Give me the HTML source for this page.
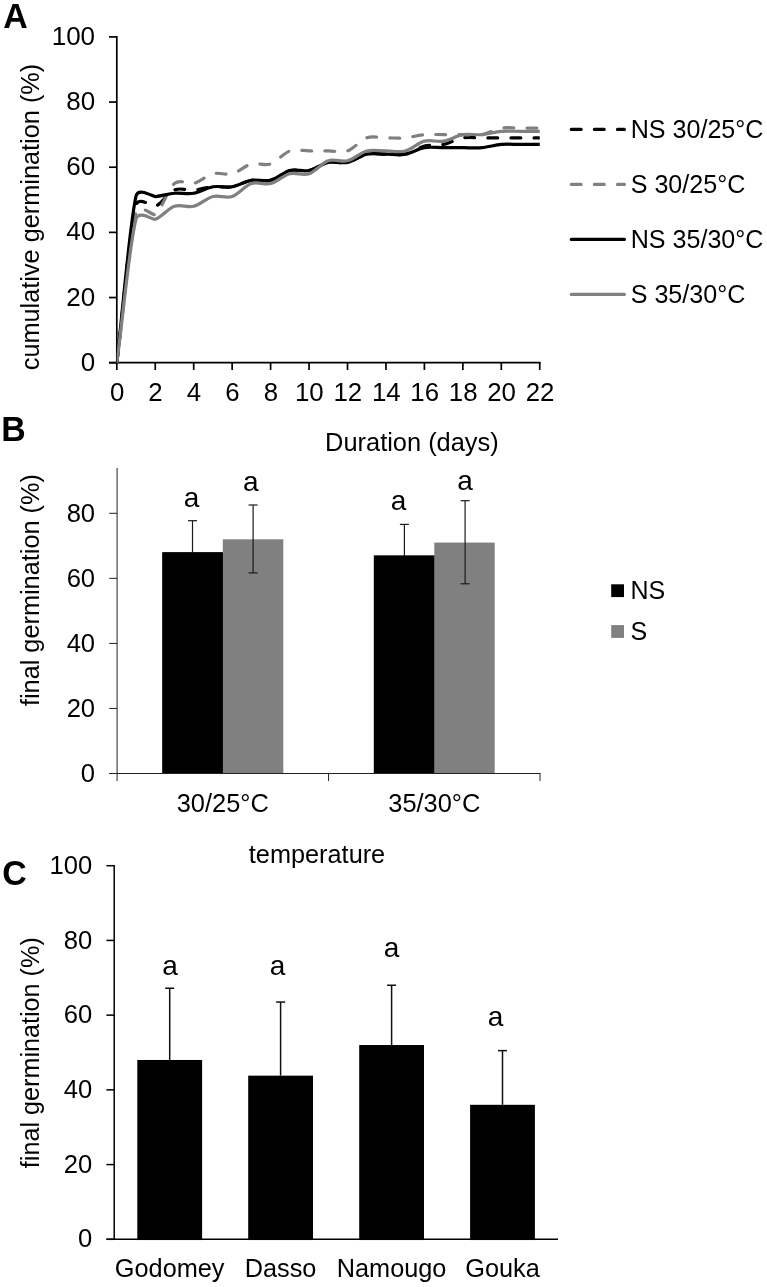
<!DOCTYPE html>
<html lang="en">
<head>
<meta charset="utf-8">
<title>Germination figure</title>
<style>
html,body{margin:0;padding:0;background:#fff;}
svg{display:block;}
svg text{font-family:"Liberation Sans", Arial, Helvetica, sans-serif;fill:#000;}
</style>
</head>
<body>
<svg width="767" height="1287" viewBox="0 0 767 1287">
<rect x="0" y="0" width="767" height="1287" fill="#ffffff"/>
<g id="panelA">
<line x1="116.80" y1="36.05" x2="116.80" y2="363.55" stroke="#000" stroke-width="1.7" />
<line x1="109.00" y1="362.70" x2="540.60" y2="362.70" stroke="#000" stroke-width="1.7" />
<line x1="109.00" y1="362.70" x2="116.80" y2="362.70" stroke="#000" stroke-width="1.7" />
<text x="95.10" y="370.70" font-size="26" text-anchor="end" font-weight="normal" >0</text>
<line x1="109.00" y1="297.54" x2="116.80" y2="297.54" stroke="#000" stroke-width="1.7" />
<text x="95.10" y="305.54" font-size="26" text-anchor="end" font-weight="normal" >20</text>
<line x1="109.00" y1="232.38" x2="116.80" y2="232.38" stroke="#000" stroke-width="1.7" />
<text x="95.10" y="240.38" font-size="26" text-anchor="end" font-weight="normal" >40</text>
<line x1="109.00" y1="167.22" x2="116.80" y2="167.22" stroke="#000" stroke-width="1.7" />
<text x="95.10" y="175.22" font-size="26" text-anchor="end" font-weight="normal" >60</text>
<line x1="109.00" y1="102.06" x2="116.80" y2="102.06" stroke="#000" stroke-width="1.7" />
<text x="95.10" y="110.06" font-size="26" text-anchor="end" font-weight="normal" >80</text>
<line x1="109.00" y1="36.90" x2="116.80" y2="36.90" stroke="#000" stroke-width="1.7" />
<text x="95.10" y="44.90" font-size="26" text-anchor="end" font-weight="normal" >100</text>
<line x1="116.80" y1="362.70" x2="116.80" y2="370.00" stroke="#000" stroke-width="1.7" />
<text x="117.10" y="401.30" font-size="25.8" text-anchor="middle" font-weight="normal" >0</text>
<line x1="155.25" y1="362.70" x2="155.25" y2="370.00" stroke="#000" stroke-width="1.7" />
<text x="155.55" y="401.30" font-size="25.8" text-anchor="middle" font-weight="normal" >2</text>
<line x1="193.70" y1="362.70" x2="193.70" y2="370.00" stroke="#000" stroke-width="1.7" />
<text x="194.00" y="401.30" font-size="25.8" text-anchor="middle" font-weight="normal" >4</text>
<line x1="232.15" y1="362.70" x2="232.15" y2="370.00" stroke="#000" stroke-width="1.7" />
<text x="232.45" y="401.30" font-size="25.8" text-anchor="middle" font-weight="normal" >6</text>
<line x1="270.60" y1="362.70" x2="270.60" y2="370.00" stroke="#000" stroke-width="1.7" />
<text x="270.90" y="401.30" font-size="25.8" text-anchor="middle" font-weight="normal" >8</text>
<line x1="309.05" y1="362.70" x2="309.05" y2="370.00" stroke="#000" stroke-width="1.7" />
<text x="309.35" y="401.30" font-size="25.8" text-anchor="middle" font-weight="normal" >10</text>
<line x1="347.50" y1="362.70" x2="347.50" y2="370.00" stroke="#000" stroke-width="1.7" />
<text x="347.80" y="401.30" font-size="25.8" text-anchor="middle" font-weight="normal" >12</text>
<line x1="385.95" y1="362.70" x2="385.95" y2="370.00" stroke="#000" stroke-width="1.7" />
<text x="386.25" y="401.30" font-size="25.8" text-anchor="middle" font-weight="normal" >14</text>
<line x1="424.40" y1="362.70" x2="424.40" y2="370.00" stroke="#000" stroke-width="1.7" />
<text x="424.70" y="401.30" font-size="25.8" text-anchor="middle" font-weight="normal" >16</text>
<line x1="462.85" y1="362.70" x2="462.85" y2="370.00" stroke="#000" stroke-width="1.7" />
<text x="463.15" y="401.30" font-size="25.8" text-anchor="middle" font-weight="normal" >18</text>
<line x1="501.30" y1="362.70" x2="501.30" y2="370.00" stroke="#000" stroke-width="1.7" />
<text x="501.60" y="401.30" font-size="25.8" text-anchor="middle" font-weight="normal" >20</text>
<line x1="539.75" y1="362.70" x2="539.75" y2="370.00" stroke="#000" stroke-width="1.7" />
<text x="540.05" y="401.30" font-size="25.8" text-anchor="middle" font-weight="normal" >22</text>
<clipPath id="plotA"><rect x="116.8" y="36.90" width="422.95" height="325.80"/></clipPath>
<g clip-path="url(#plotA)">
<path d="M116.80,362.70 C123.21,310.14 129.62,231.08 136.03,205.01 C138.33,195.66 152.95,207.21 155.25,206.32 C161.66,203.82 168.07,192.74 174.47,190.03 C180.88,187.31 187.29,190.57 193.70,190.03 C200.11,189.48 206.52,187.31 212.93,186.77 C219.33,186.22 225.74,187.85 232.15,186.77 C238.56,185.68 244.97,181.34 251.38,180.25 C257.78,179.17 264.19,181.88 270.60,180.25 C277.01,178.62 283.42,172.11 289.82,170.48 C296.23,168.85 302.64,171.84 309.05,170.48 C315.46,169.12 321.87,163.69 328.28,162.33 C334.68,160.98 341.09,163.69 347.50,162.33 C353.91,160.98 360.32,155.55 366.73,154.19 C373.13,152.83 379.54,154.19 385.95,154.19 C392.36,154.19 398.77,155.55 405.18,154.19 C411.58,152.83 417.99,147.67 424.40,146.04 C430.81,144.41 437.22,145.77 443.63,144.41 C450.03,143.06 456.44,138.98 462.85,137.90 C469.26,136.81 475.67,137.90 482.08,137.90 C488.48,137.90 494.89,137.90 501.30,137.90 C507.71,137.90 514.12,137.90 520.52,137.90 C526.93,137.90 533.34,137.90 539.75,137.90" fill="none" stroke="#000" stroke-width="3.2" stroke-dasharray="9.8 13.3" stroke-dashoffset="1.2" stroke-linejoin="round" stroke-linecap="round"/>
<path d="M116.80,362.70 C123.21,312.42 129.62,236.56 136.03,211.85 C138.46,202.46 152.81,216.26 155.25,214.46 C161.66,209.74 168.07,188.67 174.47,183.51 C180.88,178.35 187.29,185.14 193.70,183.51 C200.11,181.88 206.52,175.36 212.93,173.74 C219.33,172.11 225.74,175.36 232.15,173.74 C238.56,172.11 244.97,165.59 251.38,163.96 C257.78,162.33 264.19,166.13 270.60,163.96 C277.01,161.79 283.42,153.10 289.82,150.93 C296.23,148.76 302.64,150.93 309.05,150.93 C315.46,150.93 321.87,150.93 328.28,150.93 C334.68,150.93 341.09,153.10 347.50,150.93 C353.91,148.76 360.32,140.07 366.73,137.90 C373.13,135.73 379.54,137.90 385.95,137.90 C392.36,137.90 398.77,138.44 405.18,137.90 C411.58,137.35 417.99,135.18 424.40,134.64 C430.81,134.10 437.22,134.64 443.63,134.64 C450.03,134.64 456.44,134.64 462.85,134.64 C469.26,134.64 475.67,135.73 482.08,134.64 C488.48,133.55 494.89,129.21 501.30,128.12 C507.71,127.04 514.12,128.12 520.52,128.12 C526.93,128.12 533.34,128.12 539.75,128.12" fill="none" stroke="#808080" stroke-width="3.2" stroke-dasharray="9.8 13.3" stroke-dashoffset="-1.6" stroke-linejoin="round" stroke-linecap="round"/>
<path d="M116.80,362.70 C123.21,307.21 129.62,223.91 136.03,196.22 C138.19,186.85 153.08,196.71 155.25,196.54 C161.66,196.05 168.07,193.83 174.47,193.28 C180.88,192.74 187.29,194.37 193.70,193.28 C200.11,192.20 206.52,187.85 212.93,186.77 C219.33,185.68 225.74,187.85 232.15,186.77 C238.56,185.68 244.97,181.34 251.38,180.25 C257.78,179.17 264.19,181.88 270.60,180.25 C277.01,178.62 283.42,172.11 289.82,170.48 C296.23,168.85 302.64,171.84 309.05,170.48 C315.46,169.12 321.87,163.69 328.28,162.33 C334.68,160.98 341.09,163.69 347.50,162.33 C353.91,160.98 360.32,155.55 366.73,154.19 C373.13,152.83 379.54,154.19 385.95,154.19 C392.36,154.19 398.77,155.27 405.18,154.19 C411.58,153.10 417.99,148.76 424.40,147.67 C430.81,146.59 437.22,147.67 443.63,147.67 C450.03,147.67 456.44,147.67 462.85,147.67 C469.26,147.67 475.67,148.22 482.08,147.67 C488.48,147.13 494.89,144.96 501.30,144.41 C507.71,143.87 514.12,144.41 520.52,144.41 C526.93,144.41 533.34,144.41 539.75,144.41" fill="none" stroke="#000" stroke-width="3.2" stroke-linejoin="round" stroke-linecap="round"/>
<path d="M116.80,362.70 C123.21,314.81 129.62,242.91 136.03,219.02 C138.52,209.74 152.76,220.17 155.25,219.35 C161.66,217.23 168.07,208.49 174.47,206.32 C180.88,204.14 187.29,207.94 193.70,206.32 C200.11,204.69 206.52,198.17 212.93,196.54 C219.33,194.91 225.74,198.71 232.15,196.54 C238.56,194.37 244.97,185.68 251.38,183.51 C257.78,181.34 264.19,185.14 270.60,183.51 C277.01,181.88 283.42,175.36 289.82,173.74 C296.23,172.11 302.64,175.91 309.05,173.74 C315.46,171.56 321.87,162.88 328.28,160.70 C334.68,158.53 341.09,162.33 347.50,160.70 C353.91,159.07 360.32,152.56 366.73,150.93 C373.13,149.30 379.54,150.93 385.95,150.93 C392.36,150.93 398.77,152.56 405.18,150.93 C411.58,149.30 417.99,142.78 424.40,141.16 C430.81,139.53 437.22,142.24 443.63,141.16 C450.03,140.07 456.44,135.73 462.85,134.64 C469.26,133.55 475.67,135.18 482.08,134.64 C488.48,134.10 494.89,131.92 501.30,131.38 C507.71,130.84 514.12,131.38 520.52,131.38 C526.93,131.38 533.34,131.38 539.75,131.38" fill="none" stroke="#808080" stroke-width="3.2" stroke-linejoin="round" stroke-linecap="round"/>
</g>
<text transform="translate(38.7,217) rotate(-90)" font-size="25.3" text-anchor="middle">cumulative germination (%)</text>
<text transform="translate(3.3,27.8) scale(0.95,1)" font-size="35.7" font-weight="bold">A</text>
<line x1="571.30" y1="129.40" x2="624.40" y2="129.40" stroke="#000" stroke-width="3.2" stroke-dasharray="9.8 13.3" stroke-linecap="round"/>
<text x="630.70" y="137.80" font-size="25.1" text-anchor="start" font-weight="normal" >NS 30/25°C</text>
<line x1="571.30" y1="184.40" x2="624.40" y2="184.40" stroke="#808080" stroke-width="3.2" stroke-dasharray="9.8 13.3" stroke-linecap="round"/>
<text x="630.70" y="192.80" font-size="25.1" text-anchor="start" font-weight="normal" >S 30/25°C</text>
<line x1="571.30" y1="239.40" x2="624.40" y2="239.40" stroke="#000" stroke-width="3.2" stroke-linecap="round"/>
<text x="630.70" y="247.80" font-size="25.1" text-anchor="start" font-weight="normal" >NS 35/30°C</text>
<line x1="571.30" y1="294.40" x2="624.40" y2="294.40" stroke="#808080" stroke-width="3.2" stroke-linecap="round"/>
<text x="630.70" y="302.80" font-size="25.1" text-anchor="start" font-weight="normal" >S 35/30°C</text>
</g>
<g id="panelB">
<text transform="translate(1.3,441.3) scale(0.95,1)" font-size="35.7" font-weight="bold">B</text>
<text x="411.90" y="451.10" font-size="25.4" text-anchor="middle" font-weight="normal" >Duration (days)</text>
<rect x="162.4" y="552.33" width="60.40" height="221.67" fill="#000"/>
<rect x="222.8" y="539.32" width="60.50" height="234.68" fill="#808080"/>
<rect x="373.9" y="555.58" width="60.40" height="218.42" fill="#000"/>
<rect x="434.3" y="542.57" width="60.40" height="231.43" fill="#808080"/>
<line x1="192.50" y1="520.70" x2="192.50" y2="583.00" stroke="#1a1a1a" stroke-width="1.2" />
<line x1="188.00" y1="520.70" x2="197.00" y2="520.70" stroke="#1a1a1a" stroke-width="1.2" />
<line x1="188.00" y1="583.00" x2="197.00" y2="583.00" stroke="#1a1a1a" stroke-width="1.2" />
<line x1="253.10" y1="505.00" x2="253.10" y2="572.90" stroke="#1a1a1a" stroke-width="1.2" />
<line x1="248.60" y1="505.00" x2="257.60" y2="505.00" stroke="#1a1a1a" stroke-width="1.2" />
<line x1="248.60" y1="572.90" x2="257.60" y2="572.90" stroke="#1a1a1a" stroke-width="1.2" />
<line x1="404.40" y1="524.40" x2="404.40" y2="586.00" stroke="#1a1a1a" stroke-width="1.2" />
<line x1="399.90" y1="524.40" x2="408.90" y2="524.40" stroke="#1a1a1a" stroke-width="1.2" />
<line x1="399.90" y1="586.00" x2="408.90" y2="586.00" stroke="#1a1a1a" stroke-width="1.2" />
<line x1="465.10" y1="500.70" x2="465.10" y2="583.80" stroke="#1a1a1a" stroke-width="1.2" />
<line x1="460.60" y1="500.70" x2="469.60" y2="500.70" stroke="#1a1a1a" stroke-width="1.2" />
<line x1="460.60" y1="583.80" x2="469.60" y2="583.80" stroke="#1a1a1a" stroke-width="1.2" />
<rect x="162.4" y="552.33" width="60.40" height="221.67" fill="#000"/>
<rect x="373.9" y="555.58" width="60.40" height="218.42" fill="#000"/>
<line x1="117.10" y1="468.00" x2="117.10" y2="774.00" stroke="#222" stroke-width="1.0" />
<line x1="109.20" y1="773.50" x2="540.50" y2="773.50" stroke="#222" stroke-width="1.0" />
<line x1="109.20" y1="773.50" x2="117.10" y2="773.50" stroke="#222" stroke-width="1.0" />
<text x="95.10" y="781.90" font-size="25.6" text-anchor="end" font-weight="normal" >0</text>
<line x1="109.20" y1="708.45" x2="117.10" y2="708.45" stroke="#222" stroke-width="1.0" />
<text x="95.10" y="716.85" font-size="25.6" text-anchor="end" font-weight="normal" >20</text>
<line x1="109.20" y1="643.40" x2="117.10" y2="643.40" stroke="#222" stroke-width="1.0" />
<text x="95.10" y="651.80" font-size="25.6" text-anchor="end" font-weight="normal" >40</text>
<line x1="109.20" y1="578.35" x2="117.10" y2="578.35" stroke="#222" stroke-width="1.0" />
<text x="95.10" y="586.75" font-size="25.6" text-anchor="end" font-weight="normal" >60</text>
<line x1="109.20" y1="513.30" x2="117.10" y2="513.30" stroke="#222" stroke-width="1.0" />
<text x="95.10" y="521.70" font-size="25.6" text-anchor="end" font-weight="normal" >80</text>
<line x1="117.10" y1="773.50" x2="117.10" y2="781.00" stroke="#222" stroke-width="1.0" />
<line x1="328.55" y1="773.50" x2="328.55" y2="781.00" stroke="#222" stroke-width="1.0" />
<line x1="540.00" y1="773.50" x2="540.00" y2="781.00" stroke="#222" stroke-width="1.0" />
<text x="222.75" y="811.50" font-size="25.4" text-anchor="middle" font-weight="normal" >30/25°C</text>
<text x="434.30" y="811.50" font-size="25.4" text-anchor="middle" font-weight="normal" >35/30°C</text>
<text x="191.50" y="506.70" font-size="28" text-anchor="middle" font-weight="normal" >a</text>
<text x="250.90" y="490.50" font-size="28" text-anchor="middle" font-weight="normal" >a</text>
<text x="398.60" y="510.00" font-size="28" text-anchor="middle" font-weight="normal" >a</text>
<text x="465.00" y="490.00" font-size="28" text-anchor="middle" font-weight="normal" >a</text>
<text transform="translate(39.2,590.1) rotate(-90)" font-size="25.3" text-anchor="middle">final germination (%)</text>
<rect x="611.2" y="584.3" width="12.8" height="12.8" fill="#000"/>
<text x="630.50" y="599.00" font-size="25" text-anchor="start" font-weight="normal" >NS</text>
<rect x="611.2" y="625.1" width="12.8" height="12.8" fill="#808080"/>
<text x="630.50" y="640.00" font-size="25" text-anchor="start" font-weight="normal" >S</text>
</g>
<g id="panelC">
<text transform="translate(2.3,885.0) scale(0.95,1)" font-size="35.7" font-weight="bold">C</text>
<text x="248.80" y="862.70" font-size="25.3" text-anchor="start" font-weight="normal" >temperature</text>
<line x1="169.70" y1="988.24" x2="169.70" y2="1059.97" stroke="#111" stroke-width="1.5" />
<line x1="165.20" y1="988.24" x2="174.20" y2="988.24" stroke="#111" stroke-width="1.5" />
<rect x="137.30" y="1059.97" width="64.8" height="180.08" fill="#000"/>
<text x="169.70" y="1277.30" font-size="25.3" text-anchor="middle" font-weight="normal" >Godomey</text>
<line x1="280.60" y1="1002.06" x2="280.60" y2="1075.66" stroke="#111" stroke-width="1.5" />
<line x1="276.10" y1="1002.06" x2="285.10" y2="1002.06" stroke="#111" stroke-width="1.5" />
<rect x="248.20" y="1075.66" width="64.8" height="164.39" fill="#000"/>
<text x="280.60" y="1277.30" font-size="25.3" text-anchor="middle" font-weight="normal" >Dasso</text>
<line x1="391.60" y1="985.25" x2="391.60" y2="1045.03" stroke="#111" stroke-width="1.5" />
<line x1="387.10" y1="985.25" x2="396.10" y2="985.25" stroke="#111" stroke-width="1.5" />
<rect x="359.20" y="1045.03" width="64.8" height="195.02" fill="#000"/>
<text x="391.60" y="1277.30" font-size="25.3" text-anchor="middle" font-weight="normal" >Namougo</text>
<line x1="502.50" y1="1050.63" x2="502.50" y2="1104.80" stroke="#111" stroke-width="1.5" />
<line x1="498.00" y1="1050.63" x2="507.00" y2="1050.63" stroke="#111" stroke-width="1.5" />
<rect x="470.10" y="1104.80" width="64.8" height="135.25" fill="#000"/>
<text x="502.50" y="1277.30" font-size="25.3" text-anchor="middle" font-weight="normal" >Gouka</text>
<line x1="114.20" y1="864.95" x2="114.20" y2="1240.05" stroke="#000" stroke-width="1.5" />
<line x1="106.40" y1="1239.30" x2="558.00" y2="1239.30" stroke="#000" stroke-width="1.5" />
<line x1="106.40" y1="1239.30" x2="114.20" y2="1239.30" stroke="#000" stroke-width="1.5" />
<text x="92.20" y="1247.40" font-size="25.6" text-anchor="end" font-weight="normal" >0</text>
<line x1="106.40" y1="1164.58" x2="114.20" y2="1164.58" stroke="#000" stroke-width="1.5" />
<text x="92.20" y="1172.68" font-size="25.6" text-anchor="end" font-weight="normal" >20</text>
<line x1="106.40" y1="1089.86" x2="114.20" y2="1089.86" stroke="#000" stroke-width="1.5" />
<text x="92.20" y="1097.96" font-size="25.6" text-anchor="end" font-weight="normal" >40</text>
<line x1="106.40" y1="1015.14" x2="114.20" y2="1015.14" stroke="#000" stroke-width="1.5" />
<text x="92.20" y="1023.24" font-size="25.6" text-anchor="end" font-weight="normal" >60</text>
<line x1="106.40" y1="940.42" x2="114.20" y2="940.42" stroke="#000" stroke-width="1.5" />
<text x="92.20" y="948.52" font-size="25.6" text-anchor="end" font-weight="normal" >80</text>
<line x1="106.40" y1="865.70" x2="114.20" y2="865.70" stroke="#000" stroke-width="1.5" />
<text x="92.20" y="873.80" font-size="25.6" text-anchor="end" font-weight="normal" >100</text>
<text x="170.00" y="975.00" font-size="28" text-anchor="middle" font-weight="normal" >a</text>
<text x="277.50" y="975.00" font-size="28" text-anchor="middle" font-weight="normal" >a</text>
<text x="391.50" y="956.50" font-size="28" text-anchor="middle" font-weight="normal" >a</text>
<text x="495.50" y="1026.00" font-size="28" text-anchor="middle" font-weight="normal" >a</text>
<text transform="translate(38.75,1052.7) rotate(-90)" font-size="25.2" text-anchor="middle">final germination (%)</text>
</g>
</svg>
</body>
</html>
